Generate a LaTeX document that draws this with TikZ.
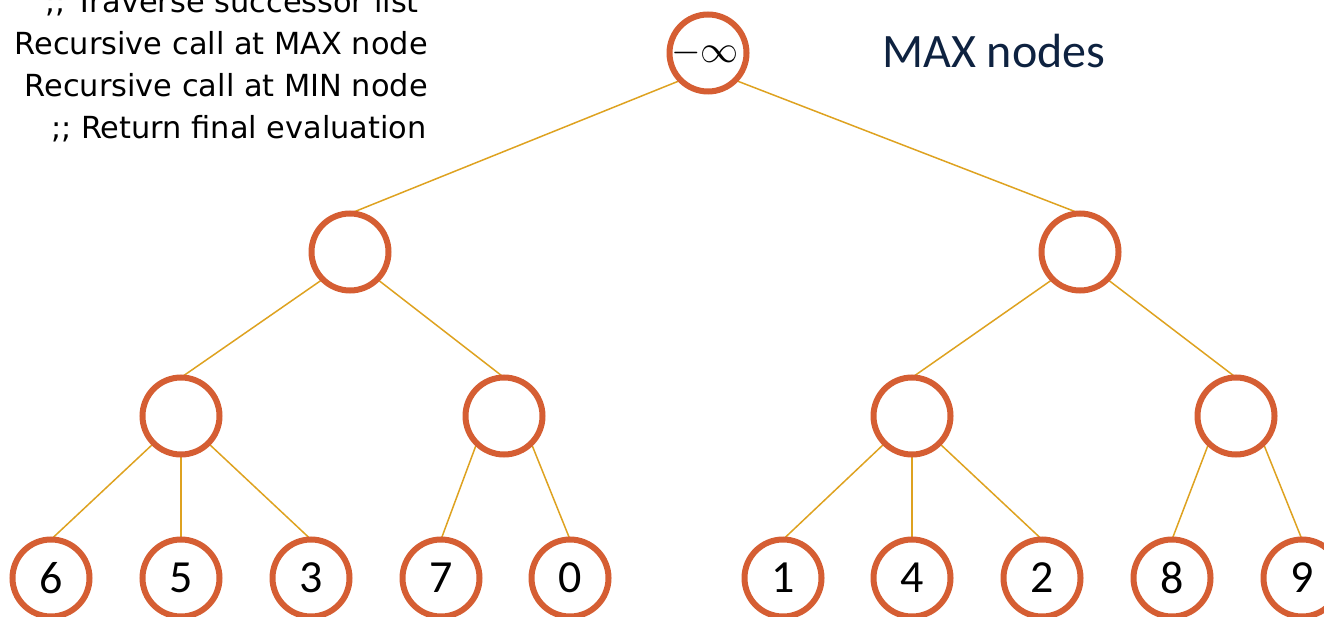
\documentclass[tikz,border=0pt]{standalone}
\usepackage{graphicx}
\usepackage{fontspec}
\setmainfont{DejaVu Sans}
\newfontfamily\calibri{Carlito}
\usetikzlibrary{backgrounds}
\definecolor{nodeorange}{RGB}{213,94,51}
\definecolor{edgegold}{RGB}{222,162,32}
\definecolor{navytext}{RGB}{14,34,64}
\tikzset{
  tnode/.style={circle, draw=nodeorange, line width=6pt, minimum size=77pt,
    inner sep=0pt, outer sep=0pt, fill=white,
    font=\calibri\fontsize{46}{46}\selectfont},
  link/.style={draw=edgegold, line width=1.5pt},
  codeline/.style={anchor=base east, inner sep=0pt,
    font=\fontsize{30.4}{40}\selectfont},
}
\begin{document}
\begin{tikzpicture}[x=1pt,y=-1pt]
\clip (0,0) rectangle (1324,617);
\useasboundingbox (0,0) rectangle (1324,617);

% pseudo-code comments
\node[codeline] (c1) at (419,13)  {;; Traverse successor list};
\node[codeline] (c2) at (428,55)  {Recursive call at MAX node};
\node[codeline] (c3) at (428,97)  {Recursive call at MIN node};
\node[codeline] (c4) at (427,139) {;; Return final evaluation};

% level caption
\node[anchor=base west, inner sep=0pt, text=navytext,
      font=\calibri\fontsize{48}{48}\selectfont] (cap) at (882,68) {MAX nodes};

% root
\node[tnode] (r) at (708,53) {};
\node[inner sep=0pt] (rv) at (705,53) {\fontsize{10}{10}\selectfont\scalebox{3.8}{$-\infty$}};

% first level
\node[tnode] (a) at (350,252) {};
\node[tnode] (b) at (1080,252) {};

% second level
\node[tnode] (aa) at (181,416) {};
\node[tnode] (ab) at (504,416) {};
\node[tnode] (ba) at (912,416) {};
\node[tnode] (bb) at (1236,416) {};

% leaves
\node[tnode] (l1)  at (51,578)   {6};
\node[tnode] (l2)  at (181,578)  {5};
\node[tnode] (l3)  at (311,578)  {3};
\node[tnode] (l4)  at (441,578)  {7};
\node[tnode] (l5)  at (570,578)  {0};
\node[tnode] (l6)  at (783,578)  {1};
\node[tnode] (l7)  at (912,578)  {4};
\node[tnode] (l8)  at (1042,578) {2};
\node[tnode] (l9)  at (1172,578) {8};
\node[tnode] (l10) at (1302,578) {9};

\begin{pgfonlayer}{background}
  \draw[link] (r.south west) -- (a.north);
  \draw[link] (r.south east) -- (b.north);
  \draw[link] (a.south west) -- (aa.north);
  \draw[link] (a.south east) -- (ab.north);
  \draw[link] (b.south west) -- (ba.north);
  \draw[link] (b.south east) -- (bb.north);
  \draw[link] (aa.south west) -- (l1.north);
  \draw[link] (aa.south) -- (l2.north);
  \draw[link] (aa.south east) -- (l3.north);
  \draw[link] (ab.south west) -- (l4.north);
  \draw[link] (ab.south east) -- (l5.north);
  \draw[link] (ba.south west) -- (l6.north);
  \draw[link] (ba.south) -- (l7.north);
  \draw[link] (ba.south east) -- (l8.north);
  \draw[link] (bb.south west) -- (l9.north);
  \draw[link] (bb.south east) -- (l10.north);
\end{pgfonlayer}
\end{tikzpicture}
\end{document}
